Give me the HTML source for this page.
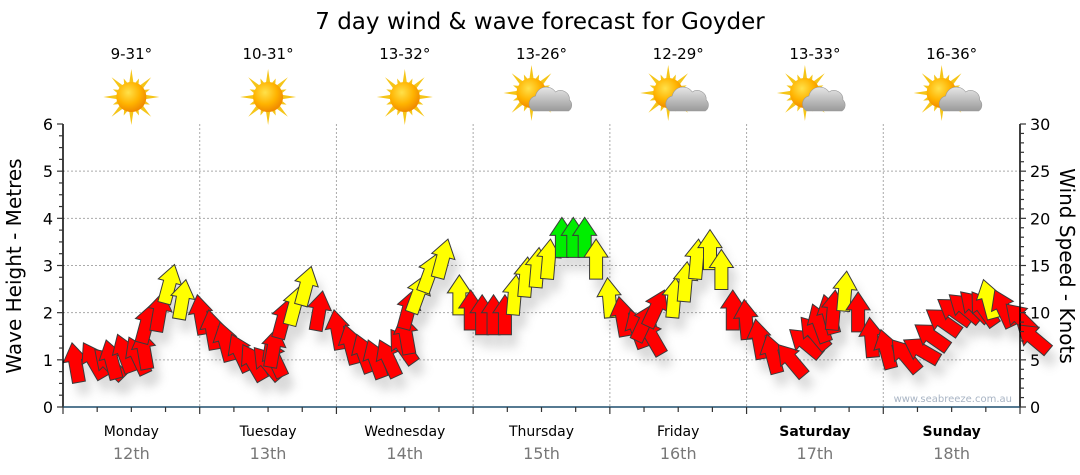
<!DOCTYPE html>
<html><head><meta charset="utf-8">
<style>
html,body{margin:0;padding:0;background:#fff;}
svg{display:block;font-family:"DejaVu Sans","Liberation Sans",sans-serif;}
</style></head>
<body>
<svg id="chart" width="1080" height="475" viewBox="0 0 1080 475">
<defs>
<filter id="sh" x="-50%" y="-50%" width="200%" height="200%"><feGaussianBlur stdDeviation="5"/></filter>
<radialGradient id="sunG" cx="40%" cy="35%" r="65%"><stop offset="0" stop-color="#ffe14a"/><stop offset="0.6" stop-color="#ffb300"/><stop offset="1" stop-color="#f08a00"/></radialGradient>
<linearGradient id="cloudG" x1="0" y1="0" x2="0" y2="1"><stop offset="0" stop-color="#e6e6e6"/><stop offset="1" stop-color="#9a9a9a"/></linearGradient>
</defs>
<text x="540" y="29" text-anchor="middle" font-size="23" fill="#000">7 day wind &amp; wave forecast for Goyder</text>
<g id="grid"></g>
<g id="header"></g>
<g id="shadows" opacity="0.25"></g>
<g id="arrows"></g>
<g id="axes"></g>
<text x="1012" y="402" text-anchor="end" font-size="10" fill="#a8b4c4">www.seabreeze.com.au</text>
<text transform="translate(21,266) rotate(-90)" text-anchor="middle" font-size="20" fill="#000">Wave Height - Metres</text>
<text transform="translate(1060,266) rotate(90)" text-anchor="middle" font-size="20" fill="#000">Wind Speed - Knots</text>
</svg>
<script>
const days = ["Monday","Tuesday","Wednesday","Thursday","Friday","Saturday","Sunday"];
const dates = ["12th","13th","14th","15th","16th","17th","18th"];
const temps = ["9-31°","10-31°","13-32°","13-26°","12-29°","13-33°","16-36°"];
const cloudy = [0,0,0,1,1,1,1];
const waveTicks = [0,1,2,3,4,5,6];
const windTicks = [0,5,10,15,20,25,30];
const windSpeed = [
6.8,6.8,6.1,7.1,7.7,7.4,8.2,10.9,12.2,15.1,13.5,11.9,
10.3,9.0,7.7,6.6,6.3,7.1,8.4,11.4,12.8,14.9,12.3,10.3,
8.7,7.7,7.1,7.1,8.2,9.8,12.4,14.0,16.2,17.8,14.0,12.4,
11.9,11.9,11.9,14.0,15.9,16.9,17.8,20.1,20.1,20.1,17.8,13.7,
11.7,10.3,9.3,10.9,12.4,13.7,15.4,17.8,18.8,16.7,12.4,11.4,
9.3,7.7,6.6,8.2,9.5,10.9,11.9,12.4,14.4,12.2,9.5,8.2,
7.1,7.1,8.7,10.3,11.4,11.9,12.2,12.2,13.5,12.4,10.9,8.7];
const windDir = [
-10,-30,-45,-15,-20,-25,-10,15,10,15,10,-10,
-10,-15,-25,-30,-40,-25,10,15,15,15,10,-10,
-15,-20,-20,-25,-35,-10,15,20,20,15,0,0,
0,0,0,5,5,5,5,0,0,0,0,-5,
-10,-20,-30,25,25,5,5,5,0,0,0,-5,
-10,-15,-40,-50,-40,-20,-15,5,5,0,-5,-15,
-40,-60,-55,-55,-55,-50,-45,-35,-15,-25,-45,-50];

const NS="http://www.w3.org/2000/svg";
const X0=63, X1=1020, Y0=407, Y1=124;
const dayW=(X1-X0)/7;
const yWave=v=>Y0-(v/6)*(Y0-Y1);
const yWind=v=>Y0-(v/30)*(Y0-Y1);
const xIdx=i=>X0+9+i*(dayW/12);
function mk(tag,attrs,parent){const e=document.createElementNS(NS,tag);for(const k in attrs)e.setAttribute(k,attrs[k]);parent.appendChild(e);return e;}
const grid=document.getElementById('grid'),axes=document.getElementById('axes'),hdr=document.getElementById('header');
for(let t=1;t<6;t++){const l=mk('line',{x1:X0,x2:X1,y1:yWave(t),y2:yWave(t),stroke:'#aaa','stroke-dasharray':'2,2','stroke-width':1},grid);

}
for(let d=1;d<7;d++){const l=mk('line',{x1:X0+d*dayW,x2:X0+d*dayW,y1:Y1,y2:Y0,stroke:'#aaa','stroke-dasharray':'2,2','stroke-width':1},grid);

}
let a=mk('line',{x1:X0,x2:X0,y1:Y1,y2:Y0,stroke:'#000','stroke-width':1.5},axes);


a=mk('line',{x1:X1,x2:X1,y1:Y1,y2:Y0,stroke:'#000','stroke-width':1.5},axes);


a=mk('line',{x1:X0,x2:X1,y1:Y0,y2:Y0,stroke:'#1f4e6e','stroke-width':1.5},axes);


for(let m=0;m<=24;m++){const y=yWave(m/4);mk('line',{x1:X0-(m%4==0?6:4),x2:X0,y1:y,y2:y,stroke:'#333','stroke-width':1.2},axes);}
for(let m=0;m<=30;m++){const y=yWind(m);mk('line',{x1:X1,x2:X1+(m%5==0?6:4),y1:y,y2:y,stroke:'#333','stroke-width':1.2},axes);}
for(let q=0;q<=28;q++){const x=X0+q*dayW/4;mk('line',{x1:x,x2:x,y1:Y0,y2:Y0+(q%4==0?7:5),stroke:'#333','stroke-width':1.2},axes);}
waveTicks.forEach(v=>{const t=mk('text',{x:X0-10,y:yWave(v)+6,'text-anchor':'end','font-size':16,fill:'#000'},axes);t.textContent=v;

});
windTicks.forEach(v=>{const t=mk('text',{x:X1+10,y:yWind(v)+6,'font-size':16,fill:'#000'},axes);t.textContent=v;

});
days.forEach((d,i)=>{const cx=X0+(i+0.5)*dayW;
const t=mk('text',{x:cx,y:436,'text-anchor':'middle','font-size':14,fill:'#000','font-weight':i>=5?'bold':'normal'},axes);t.textContent=d;


const t2=mk('text',{x:cx,y:459,'text-anchor':'middle','font-size':16,fill:'#777'},axes);t2.textContent=dates[i];


const t3=mk('text',{x:cx,y:59,'text-anchor':'middle','font-size':15,fill:'#000'},hdr);t3.textContent=temps[i];


const g=mk('g',{transform:`translate(${cx},97)`},hdr);


const sx=cloudy[i]?-10:0, sy=cloudy[i]?-4:0;
for(let r=0;r<16;r++){const ang=r*22.5*Math.PI/180,len=(r%2?20:28);
const px=sx+Math.sin(ang)*len,py=sy-Math.cos(ang)*len;
const a1=ang+0.18,a2=ang-0.18;
mk('polygon',{points:`${px},${py} ${sx+Math.sin(a1)*13},${sy-Math.cos(a1)*13} ${sx+Math.sin(a2)*13},${sy-Math.cos(a2)*13}`,fill:'#f5c518'},g);}
mk('circle',{cx:sx,cy:sy,r:15,fill:'url(#sunG)'},g);
if(cloudy[i]){mk('path',{d:'M-8,14 a8,8 0 0 1 2,-15 a11,11 0 0 1 20,-4 a9,9 0 0 1 14,8 a7,7 0 0 1 -1,11 z',fill:'url(#cloudG)',stroke:'#999','stroke-width':0.6},g);}
});
const arrowPts="0,0 12,18 6.5,18 6.5,40 -6.5,40 -6.5,18 -12,18";
const shG=document.getElementById('shadows'),arG=document.getElementById('arrows');
windSpeed.forEach((v,i)=>{const x=xIdx(i),y=yWind(v),ang=windDir[i];
const col=v>=19?'#00ee00':(v>=12.5?'#ffff00':'#ff0000');
const s=mk('polygon',{points:arrowPts,transform:`translate(${x+6},${y+12}) rotate(${ang})`,fill:'#666',filter:'url(#sh)'},shG);


const p=mk('polygon',{points:arrowPts,transform:`translate(${x},${y}) rotate(${ang})`,fill:col,stroke:'#3a3a3a','stroke-width':1},arG);

});
</script>
</body></html>
